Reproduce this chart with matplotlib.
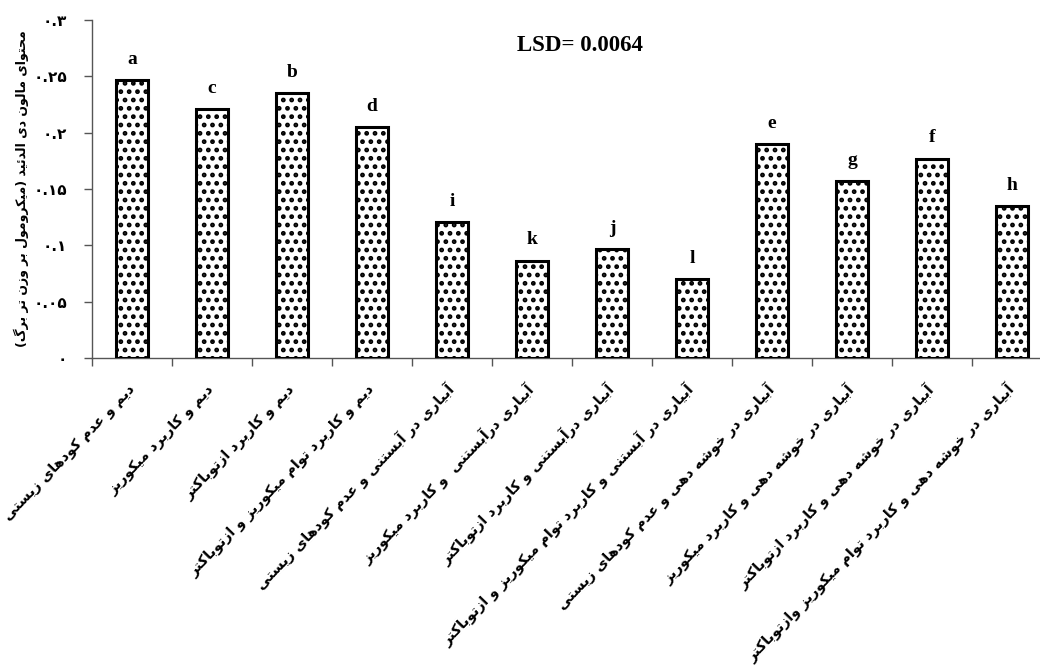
import numpy as np
import matplotlib
matplotlib.use("Agg")
import matplotlib.pyplot as plt
from matplotlib.transforms import ScaledTranslation

# --- data ---
labels = [
    "دیم و عدم کودهای زیستی",
    "دیم و کاربرد میکوریز",
    "دیم و کاربرد ازتوباکتر",
    "دیم و کاربرد توام میکوریز و ازتوباکتر",
    "آبیاری در آبستنی و عدم کودهای زیستی",
    "آبیاری درآبستنی  و کاربرد میکوریز",
    "آبیاری درآبستنی و کاربرد ازتوباکتر",
    "آبیاری در آبستنی و کاربرد توام میکوریز و ازتوباکتر",
    "آبیاری در خوشه دهی و عدم کودهای زیستی",
    "آبیاری در خوشه دهی و کاربرد میکوریز",
    "آبیاری در خوشه دهی و کاربرد ازتوباکتر",
    "آبیاری در خوشه دهی و کاربرد توام میکوریز وازتوباکتر",
]
values = [0.2466, 0.2208, 0.2348, 0.2048, 0.1203, 0.0861,
          0.0962, 0.0696, 0.1898, 0.1566, 0.1767, 0.1347]
letters = ["a", "c", "b", "d", "i", "k", "j", "l", "e", "g", "f", "h"]
yticks = [0, 0.05, 0.1, 0.15, 0.2, 0.25, 0.3]
ytick_labels = ["۰", "۰.۰۵", "۰.۱", "۰.۱۵", "۰.۲", "۰.۲۵", "۰.۳"]
ylabel = "محتوای مالون دی الدئید (میکرومول بر وزن تر برگ)"
lsd_text = "LSD= 0.0064"

# --- minimal Persian shaping (matplotlib has no complex text layout) ---
# char: (isolated, final, initial, medial); two entries -> right-joining only
FORMS = {
    "ا": (0xFE8D, 0xFE8E), "آ": (0xFE81, 0xFE82),
    "د": (0xFEA9, 0xFEAA), "ر": (0xFEAD, 0xFEAE),
    "ز": (0xFEAF, 0xFEB0), "و": (0xFEED, 0xFEEE),
    "ب": (0xFE8F, 0xFE90, 0xFE91, 0xFE92), "ت": (0xFE95, 0xFE96, 0xFE97, 0xFE98),
    "ح": (0xFEA1, 0xFEA2, 0xFEA3, 0xFEA4), "خ": (0xFEA5, 0xFEA6, 0xFEA7, 0xFEA8),
    "س": (0xFEB1, 0xFEB2, 0xFEB3, 0xFEB4), "ش": (0xFEB5, 0xFEB6, 0xFEB7, 0xFEB8),
    "ع": (0xFEC9, 0xFECA, 0xFECB, 0xFECC), "ل": (0xFEDD, 0xFEDE, 0xFEDF, 0xFEE0),
    "م": (0xFEE1, 0xFEE2, 0xFEE3, 0xFEE4), "ن": (0xFEE5, 0xFEE6, 0xFEE7, 0xFEE8),
    "ه": (0xFEE9, 0xFEEA, 0xFEEB, 0xFEEC), "ئ": (0xFE89, 0xFE8A, 0xFE8B, 0xFE8C),
    "ک": (0xFB8E, 0xFB8F, 0xFB90, 0xFB91), "گ": (0xFB92, 0xFB93, 0xFB94, 0xFB95),
    "ی": (0xFBFC, 0xFBFD, 0xFBFE, 0xFBFF),
}
MIRROR = {"(": ")", ")": "("}


def shape(text):
    out = []
    n = len(text)
    for i, ch in enumerate(text):
        if ch not in FORMS:
            out.append(ch)
            continue
        prev = text[i - 1] if i > 0 else None
        nxt = text[i + 1] if i < n - 1 else None
        join_prev = prev in FORMS and len(FORMS[prev]) == 4
        join_next = len(FORMS[ch]) == 4 and nxt in FORMS
        f = FORMS[ch]
        if join_prev and join_next:
            out.append(chr(f[3]))
        elif join_prev:
            out.append(chr(f[1]))
        elif join_next:
            out.append(chr(f[2]))
        else:
            out.append(chr(f[0]))
    return "".join(MIRROR.get(c, c) for c in reversed(out))


fig = plt.figure(figsize=(10.4, 6.68), dpi=100)
ax = fig.add_axes([92 / 1040, 1 - 357.8 / 668, 960 / 1040, 337.8 / 668])

plt.rcParams["hatch.linewidth"] = 2.2
x = np.arange(len(values))
ax.bar(x, values, width=0.4, color="white", edgecolor="black",
       linewidth=2.2, hatch="..", zorder=3)

for xi, v, lt in zip(x, values, letters):
    ax.annotate(lt, (xi, v), xytext=(0, 9), textcoords="offset points",
                ha="center", va="bottom", fontsize=14, fontweight="bold",
                family="Liberation Serif")

ax.text(0.508, 0.925, lsd_text, transform=ax.transAxes, ha="center", va="center",
        fontsize=16.5, fontweight="bold", family="Liberation Serif")

ax.set_xlim(-0.5, len(values) - 0.5)
ax.set_ylim(0, 0.3)
ax.set_yticks(yticks)
ax.set_yticklabels(ytick_labels, fontsize=11, fontweight="bold", family="DejaVu Sans")
ax.set_xticks(x)
ax.set_xticklabels([shape(s) for s in labels], rotation=46, ha="right",
                   va="center", rotation_mode="anchor", fontsize=10.3,
                   fontweight="bold", family="DejaVu Sans")
shift = ScaledTranslation(1 / 72, 0, fig.dpi_scale_trans)
for t in ax.get_xticklabels():
    t.set_transform(t.get_transform() + shift)
ax.set_xticks(np.arange(-0.5, len(values), 1), minor=True)
ax.tick_params(axis="x", which="major", length=0, pad=21)
ax.tick_params(axis="x", which="minor", length=6, direction="out", width=1, color="#555555")
ax.tick_params(axis="y", length=6, direction="out", width=1, color="#555555", pad=12)

ax.set_ylabel(shape(ylabel), fontsize=9, fontweight="bold", family="DejaVu Sans",
              labelpad=3)

for side in ["top", "right"]:
    ax.spines[side].set_visible(False)
for side in ["left", "bottom"]:
    ax.spines[side].set_color("#555555")
    ax.spines[side].set_linewidth(1)

fig.savefig("out.png", dpi=100)
